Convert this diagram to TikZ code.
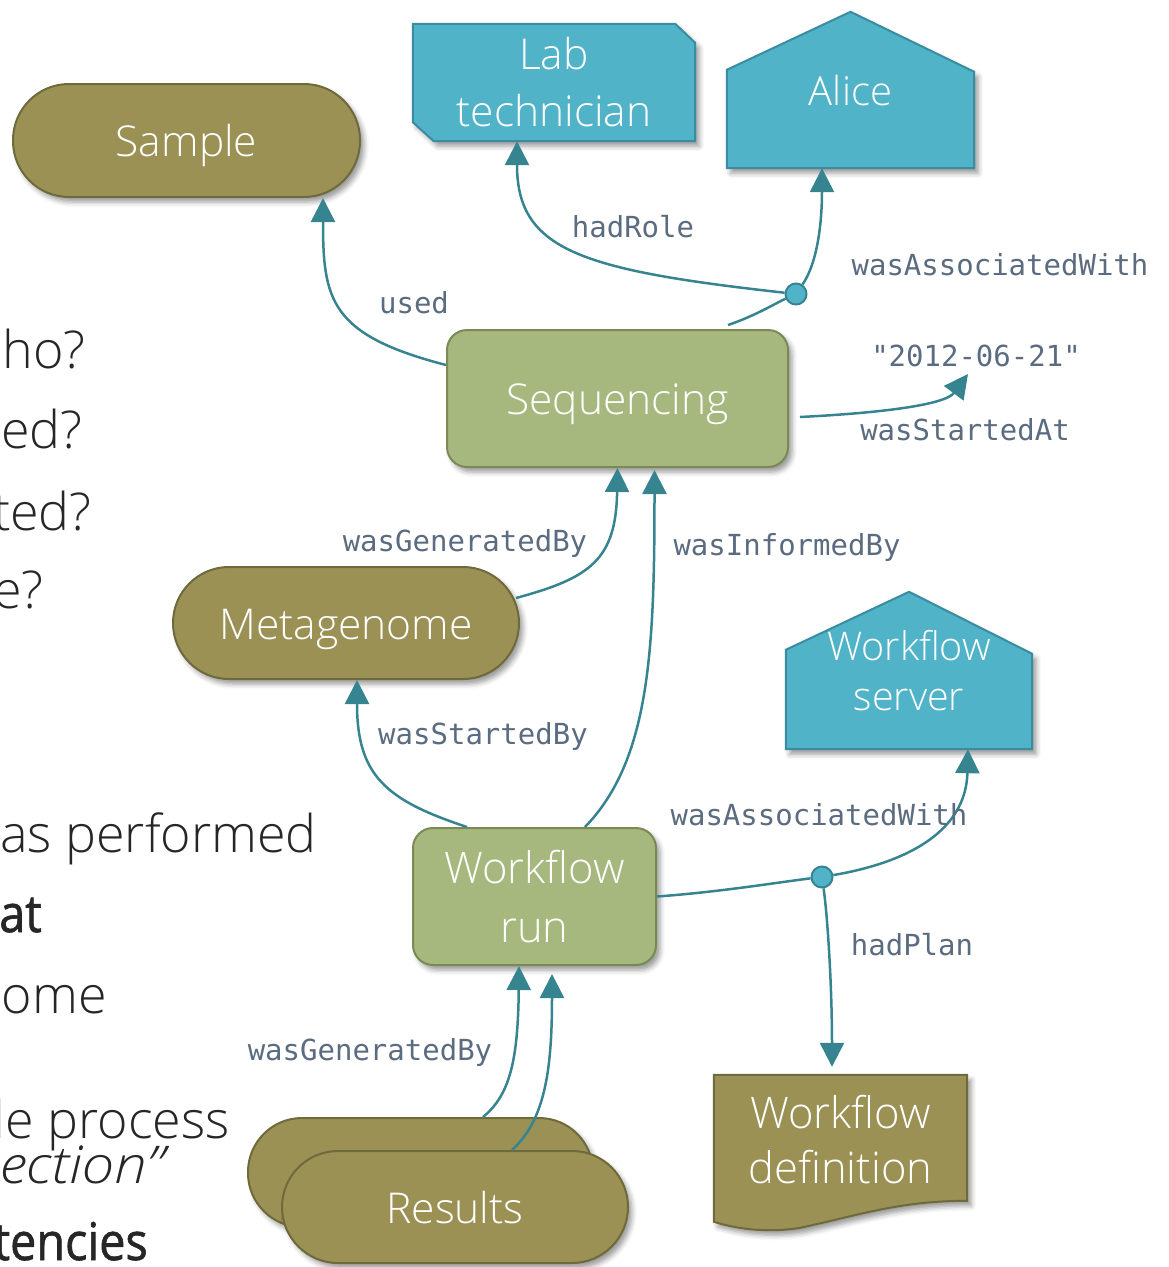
\documentclass[tikz,border=0pt]{standalone}
\usepackage{fontspec}
\newfontfamily\lightsans{Open Sans Light}
\newfontfamily\lightwide{Open Sans Light}[FakeStretch=1.12]
\newfontfamily\semisans{Open Sans}[FakeBold=1.2, FakeStretch=0.9]
\newfontfamily\codefont{DejaVu Sans Mono}
\usetikzlibrary{arrows.meta,calc,shadows.blur}

\definecolor{entityfill}{HTML}{9B9155}
\definecolor{entityline}{HTML}{6F6A3C}
\definecolor{actfill}{HTML}{A7B87E}
\definecolor{actline}{HTML}{7B8A55}
\definecolor{agentfill}{HTML}{50B3C8}
\definecolor{agentline}{HTML}{3A8CA0}
\definecolor{edgecol}{HTML}{378491}
\definecolor{labelcol}{HTML}{5B6B80}
\definecolor{bodytext}{HTML}{262626}

\pgfdeclarelayer{paper}
\pgfdeclarelayer{shapes}
\pgfsetlayers{paper,shapes,main}

\tikzset{
  dropshade/.style={blur shadow={shadow xshift=4pt, shadow yshift=-5pt,
      shadow blur radius=5pt, shadow opacity=40}},
  nodetext/.style={text=white, align=center,
      font=\lightsans\fontsize{42.5}{57}\selectfont},
  oneline/.style={text height=36pt, text depth=4pt},
  entity/.style={nodetext, oneline, rectangle, fill=entityfill,
      draw=entityline, line width=2pt, dropshade},
  activity/.style={nodetext, rectangle, rounded corners=20pt, fill=actfill,
      draw=actline, line width=2pt, dropshade},
  frame/.style={nodetext, rectangle, inner sep=0pt},
  agentshape/.style={fill=agentfill, draw=agentline, line width=2pt,
      dropshade},
  planshape/.style={fill=entityfill, draw=entityline, line width=2pt,
      dropshade},
  rel/.style={draw=edgecol, line width=2.5pt,
      -{Triangle[length=24pt,width=24pt]}},
  link/.style={draw=edgecol, line width=2.5pt},
  lbl/.style={text=labelcol, font=\codefont\fontsize{29}{34}\selectfont,
      inner sep=0pt, anchor=base},
  assoc/.style={circle, fill=agentfill, draw=edgecol, line width=2pt,
      minimum size=21pt, inner sep=0pt},
  bodyline/.style={text=bodytext, inner sep=0pt, anchor=base east,
      font=\lightsans\fontsize{52}{62}\selectfont},
  bodybold/.style={bodyline, font=\semisans\fontsize{52}{62}\selectfont},
}

\begin{document}
\begin{tikzpicture}[x=1pt, y=-1pt]
\useasboundingbox (0,0) rectangle (1168,1267);
\begin{pgfonlayer}{paper}
  \fill[white] (0,0) rectangle (1168,1267);
\end{pgfonlayer}
% prime the fading used by the blurred shadows (lies off the page)
\path[dropshade, fill=white] (-300,-300) rectangle (-290,-290);

% bullet text on the left, running off the page edge
\node[bodyline] (q1) at (86,368) {ho?};
\node[bodyline] (q2) at (83,448) {ed?};
\node[bodyline] (q3) at (92,530) {ted?};
\node[bodyline] (q4) at (44,608) {e?};
\node[bodyline] (p1) at (317,852) {was performed};
\node[bodybold] (p2) at (42,932) {at};
\node[bodyline] (p3) at (107,1013) {ome};
\node[bodyline] (p4) at (230,1138) {le process};
\node[bodyline, font=\lightwide\itshape\fontsize{52}{62}\selectfont] (p5) at (165,1183) {ection”};
\node[bodybold] (p6) at (148,1260) {tencies};

% entities
\node[entity, rounded corners=56pt, minimum width=347pt, minimum height=113pt]
  (sample) at (186.5,140.5) {Sample};
\node[entity, rounded corners=56pt, minimum width=346pt, minimum height=112pt]
  (meta) at (346,623) {Metagenome};
\node[entity, rounded corners=54pt, minimum width=345pt, minimum height=109pt]
  (resback) at (420.5,1172.5) {};
\node[entity, rounded corners=56pt, minimum width=346pt, minimum height=112pt]
  (resfront) at (455,1207) {Results};

% activities
\node[activity, minimum width=341pt, minimum height=137pt, oneline]
  (seq) at (617.5,398.5) {Sequencing};
\node[activity, font=\lightsans\fontsize{43.5}{59}\selectfont,
  minimum width=243pt, minimum height=137pt]
  (run) at (534.5,896.5) {Workflow\\run};

% agents
\node[frame, minimum width=282pt, minimum height=117pt]
  (labtech) at (554,82.5) {Lab\\technician};
\node[frame, font=\lightsans\fontsize{40}{57}\selectfont,
  minimum width=247pt, minimum height=156pt]
  (alice) at (850.5,90) {Alice};
\node[frame, font=\lightsans\fontsize{39.5}{50}\selectfont,
  minimum width=246pt, minimum height=157pt]
  (server) at (909,670.5) {Workflow\\server};

% plan
\node[frame, font=\lightsans\fontsize{43.5}{55}\selectfont,
  minimum width=253pt, minimum height=130pt]
  (wfdef) at (840.5,1140) {Workflow\\definition};

\begin{pgfonlayer}{shapes}
  \path[agentshape] (labtech.north west) -- ($(labtech.north east)+(-20,0)$)
    -- ($(labtech.north east)+(0,19)$) -- (labtech.south east)
    -- ($(labtech.south west)+(21,0)$) -- ($(labtech.south west)+(0,-19)$) -- cycle;
  \path[agentshape] (alice.south west) -- ($(alice.north west)+(0,58)$)
    -- (alice.north) -- ($(alice.north east)+(0,60)$) -- (alice.south east) -- cycle;
  \path[agentshape] (server.south west) -- ($(server.north west)+(0,58)$)
    -- (server.north) -- ($(server.north east)+(0,62)$) -- (server.south east) -- cycle;
  \path[planshape] (wfdef.north west) -- (wfdef.north east)
    -- ($(wfdef.north east)+(0,126)$)
    .. controls ($(wfdef.north east)+(-67,126)$) and ($(wfdef.north east)+(-107,140)$)
    .. ($(wfdef.north east)+(-167,153)$)
    .. controls ($(wfdef.north west)+(56,158)$) and ($(wfdef.north west)+(26,155)$)
    .. ($(wfdef.north west)+(0,147)$) -- cycle;
\end{pgfonlayer}

% association points
\node[assoc] (assoc1) at (796,294) {};
\node[assoc] (assoc2) at (822,877) {};

% literal
\node[lbl] (date) at (976,366) {"2012-06-21"};

% relations
\draw[rel] ($(seq.north west)+(0,36)$) .. controls (330,335) and (323,300)
  .. ($(sample.south)+(136.5,0)$);
\draw[link] ($(seq.north)+(110.5,-4)$) .. controls (755,316) and (778,302) .. (assoc1);
\draw[rel] (assoc1) .. controls (580,270) and (517,250) .. ($(labtech.south)+(-37,0)$);
\draw[rel] (assoc1) .. controls (818,262) and (822,220) .. ($(alice.south)+(-28.5,0)$);
\draw[rel] ($(seq.east)+(11,18.5)$) .. controls (880,413) and (945,405)
  .. ($(date.base)+(-8,8)$);
\draw[rel] ($(meta.east)+(-4,-25)$) .. controls (590,578) and (616,560) .. (seq.south);
\draw[rel] ($(run.north)+(50.5,0)$) .. controls (650,760) and (654.5,650)
  .. ($(seq.south)+(37,2)$);
\draw[rel] ($(run.north)+(-67.5,0)$) .. controls (385,800) and (357,775)
  .. ($(meta.south)+(11,0)$);
\draw[link] (run.east) .. controls (720,892) and (780,882) .. (assoc2);
\draw[rel] (assoc2) .. controls (910,862) and (966,830) .. ($(server.south)+(59,0)$);
\draw[rel] (assoc2) .. controls (828,920) and (832,990) .. ($(wfdef.north)+(-8.5,-8)$);
\draw[rel] ($(resback.north)+(62.5,0)$) .. controls (510,1095) and (518,1060)
  .. ($(run.south)+(-15.5,0)$);
\draw[rel] ($(resfront.north)+(57,0)$) .. controls (545,1120) and (552,1070)
  .. ($(run.south)+(17.5,8)$);

% relation labels
\node[lbl] (lused) at (414,313) {used};
\node[lbl] (lrole) at (633,237) {hadRole};
\node[lbl] (lassoc1) at (1000,275) {wasAssociatedWith};
\node[lbl] (lstart) at (965,440) {wasStartedAt};
\node[lbl] (lgen1) at (465,551) {wasGeneratedBy};
\node[lbl] (linf) at (787,555) {wasInformedBy};
\node[lbl] (lsby) at (483,744) {wasStartedBy};
\node[lbl] (lassoc2) at (819,825) {wasAssociatedWith};
\node[lbl] (lplan) at (912,955) {hadPlan};
\node[lbl] (lgen2) at (370,1060) {wasGeneratedBy};
\end{tikzpicture}
\end{document}
